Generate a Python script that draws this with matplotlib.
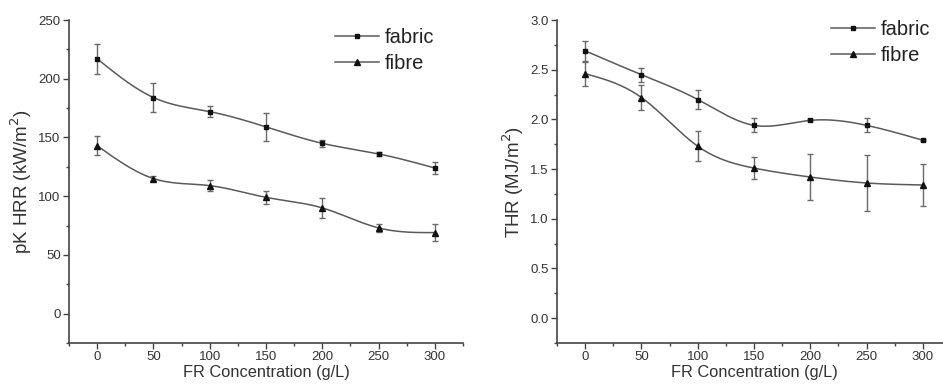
import matplotlib
matplotlib.use('Agg')
import matplotlib.pyplot as plt
from matplotlib.lines import Line2D
from matplotlib.ticker import MultipleLocator
import numpy as np

plt.rcParams['font.family'] = ['Liberation Sans', 'DejaVu Sans']

conc = [0, 50, 100, 150, 200, 250, 300]

# peak heat release rate (kW/m2)
hrr_fabric = [217, 184, 172, 159, 145, 136, 124]
hrr_fabric_err = [13, 12, 5, 12, 3, 1.5, 5.5]
hrr_fibre = [143, 115, 109, 99, 90, 73, 69]
hrr_fibre_err = [8, 2, 5, 5.5, 8.5, 3.5, 7]

# total heat release (MJ/m2)
thr_fabric = [2.69, 2.45, 2.20, 1.94, 1.99, 1.94, 1.79]
thr_fabric_err = [0.10, 0.07, 0.10, 0.07, 0.01, 0.07, 0.01]
thr_fibre = [2.46, 2.22, 1.73, 1.51, 1.42, 1.36, 1.34]
thr_fibre_err = [0.12, 0.13, 0.15, 0.11, 0.23, 0.28, 0.21]

LINE = '#5a5a5a'
ERR = '#6a6a6a'
TXT = '#333333'


def spline(x, y, n=200):
	# natural cubic spline through the points, only for drawing the curve
	x = np.asarray(x, float)
	y = np.asarray(y, float)
	k = len(x)
	h = np.diff(x)
	A = np.zeros((k, k))
	b = np.zeros(k)
	A[0, 0] = A[-1, -1] = 1
	for i in range(1, k - 1):
		A[i, i-1] = h[i-1]
		A[i, i] = 2 * (h[i-1] + h[i])
		A[i, i+1] = h[i]
		b[i] = 6 * ((y[i+1]-y[i])/h[i] - (y[i]-y[i-1])/h[i-1])
	M = np.linalg.solve(A, b)
	xs = np.linspace(x[0], x[-1], n)
	idx = np.clip(np.searchsorted(x, xs) - 1, 0, k - 2)
	x0, x1 = x[idx], x[idx+1]
	hh = x1 - x0
	t0 = x1 - xs
	t1 = xs - x0
	ys = (M[idx]*t0**3 + M[idx+1]*t1**3)/(6*hh) \
		+ (y[idx]/hh - M[idx]*hh/6)*t0 + (y[idx+1]/hh - M[idx+1]*hh/6)*t1
	return xs, ys


def panel(ax, fab, fab_e, fib, fib_e, ylim, ymaj, ymin, ylabel, fmt, leg_xy):
	for vals, err, mk, ms in [(fab, fab_e, 's', 3.5), (fib, fib_e, '^', 4.5)]:
		xs, ys = spline(conc, vals)
		ax.plot(xs, ys, color=LINE, lw=1.1, zorder=2)
		ax.errorbar(conc, vals, yerr=err, fmt='none', ecolor=ERR, elinewidth=1.0,
					capsize=2.5, capthick=1.0, zorder=3)
		ax.plot(conc, vals, linestyle='none', marker=mk, markersize=ms,
				color='#111111', zorder=4)
	ax.set_xlim(-25, 325)
	ax.set_ylim(*ylim)
	ax.xaxis.set_major_locator(MultipleLocator(50))
	ax.xaxis.set_minor_locator(MultipleLocator(25))
	ax.yaxis.set_major_locator(MultipleLocator(ymaj))
	ax.yaxis.set_minor_locator(MultipleLocator(ymin))
	ax.yaxis.set_major_formatter(fmt)
	for s in ['top', 'right']:
		ax.spines[s].set_visible(False)
	for s in ['left', 'bottom']:
		ax.spines[s].set_color('#444444')
		ax.spines[s].set_linewidth(1.2)
	ax.tick_params(which='major', direction='out', length=4, width=1.0,
				   color='#444444', labelsize=9.5, labelcolor=TXT, pad=2)
	ax.tick_params(which='minor', direction='out', length=2.5, width=1.0, color='#444444')
	ax.set_xlabel('FR Concentration (g/L)', fontsize=11.8, color=TXT, labelpad=1)
	ax.set_ylabel(ylabel, fontsize=13.5, color=TXT, labelpad=3)
	handles = [
		Line2D([0], [0], color=LINE, lw=1.1, marker='s', markersize=3.5,
			   markerfacecolor='#111111', markeredgecolor='#111111'),
		Line2D([0], [0], color=LINE, lw=1.1, marker='^', markersize=4.5,
			   markerfacecolor='#111111', markeredgecolor='#111111'),
	]
	leg = ax.legend(handles, ['fabric', 'fibre'], loc='upper left', bbox_to_anchor=leg_xy,
					frameon=False, fontsize=14.5, handlelength=2.2, handletextpad=0.25,
					labelspacing=0.35, borderaxespad=0)
	for t in leg.get_texts():
		t.set_color('#222222')


fig = plt.figure(figsize=(9.43, 3.91), dpi=100)
ax1 = fig.add_axes([0.0732, 0.1228, 0.4178, 0.826])
ax2 = fig.add_axes([0.5907, 0.1228, 0.4178, 0.826])

panel(ax1, hrr_fabric, hrr_fabric_err, hrr_fibre, hrr_fibre_err, (-25, 250), 50, 25,
	  'pK HRR (kW/m$^2$)', '{x:.0f}', (0.655, 1.0))
panel(ax2, thr_fabric, thr_fabric_err, thr_fibre, thr_fibre_err, (-0.25, 3.0), 0.5, 0.25,
	  'THR (MJ/m$^2$)', '{x:.1f}', (0.675, 1.025))

fig.savefig('out.png', dpi=100)
